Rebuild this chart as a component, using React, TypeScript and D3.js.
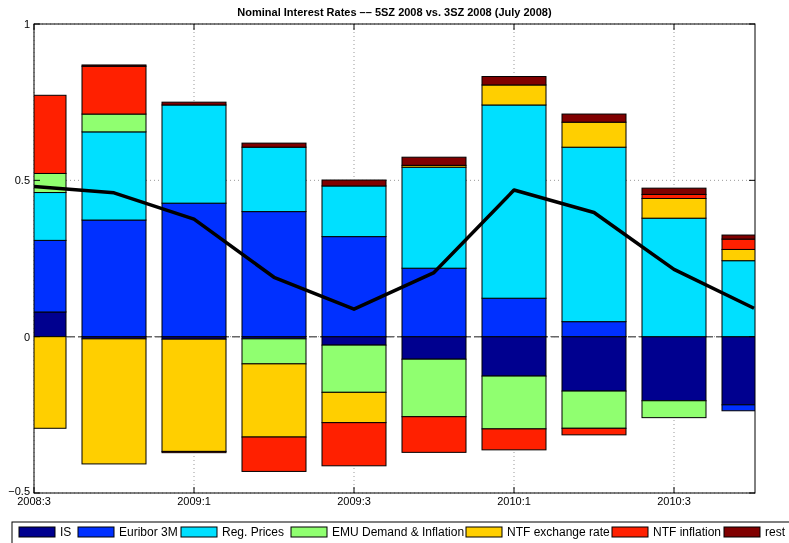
import { useEffect, useRef } from "react"
import * as d3 from "d3"

const quarters = ["2008:3", "2008:4", "2009:1", "2009:2", "2009:3", "2009:4", "2010:1", "2010:2", "2010:3", "2010:4"]
const tickLabels = ["2008:3", "2009:1", "2009:3", "2010:1", "2010:3"]
const seriesNames = ["IS", "Euribor 3M", "Reg. Prices", "EMU Demand & Inflation", "NTF exchange rate", "NTF inflation", "rest"]
const seriesColors = ["#00008f", "#0030ff", "#00e0ff", "#90ff70", "#ffcf00", "#ff2000", "#800000"]

const isValues = [0.079, -0.007, -0.008, -0.007, -0.027, -0.072, -0.126, -0.174, -0.205, -0.218]
const euriborValues = [0.229, 0.373, 0.427, 0.4, 0.32, 0.219, 0.123, 0.048, 0.0, -0.019]
const regPricesValues = [0.153, 0.282, 0.314, 0.206, 0.162, 0.323, 0.618, 0.558, 0.379, 0.243]
const emuValues = [0.061, 0.057, 0.0, -0.08, -0.151, -0.184, -0.169, -0.119, -0.054, 0.0]
const ntfExchangeValues = [-0.293, -0.4, -0.359, -0.234, -0.097, 0.006, 0.064, 0.08, 0.063, 0.036]
const ntfInflationValues = [0.25, 0.153, -0.004, -0.11, -0.138, -0.114, -0.067, -0.021, 0.013, 0.033]
const restValues = [0.0, 0.004, 0.009, 0.013, 0.019, 0.026, 0.027, 0.026, 0.02, 0.013]
const totalLine = [0.48, 0.46, 0.376, 0.19, 0.088, 0.205, 0.469, 0.397, 0.215, 0.091]

const yTicks = [-0.5, 0, 0.5, 1]

export default function App() {
  const svgRef = useRef<SVGSVGElement>(null)

  useEffect(() => {
    if (!svgRef.current) return
    const root = d3.select(svgRef.current)
    root.selectAll("*").remove()

    const width = 789
    const height = 543
    const left = 34
    const right = 755
    const top = 24
    const bottom = 493
    const font = "'Liberation Sans', Arial, Helvetica, sans-serif"

    root.attr("width", width).attr("height", height)

    const series = [isValues, euriborValues, regPricesValues, emuValues, ntfExchangeValues, ntfInflationValues, restValues]

    const x = d3.scaleLinear().domain([0, quarters.length - 1]).range([left, right - 1])
    const y = d3.scaleLinear().domain([-0.5, 1]).range([bottom, top])
    const barW = (x(1) - x(0)) * 0.8

    root
      .append("defs")
      .append("clipPath")
      .attr("id", "plot-clip")
      .append("rect")
      .attr("x", left)
      .attr("y", top)
      .attr("width", right - left)
      .attr("height", bottom - top)

    // grid
    const grid = root.append("g")
    tickLabels.forEach((t) => {
      const xi = x(quarters.indexOf(t))
      grid
        .append("line")
        .attr("x1", xi)
        .attr("x2", xi)
        .attr("y1", top)
        .attr("y2", bottom)
        .attr("stroke", "#999")
        .attr("stroke-dasharray", "1,3")
    })
    yTicks.forEach((v) => {
      grid
        .append("line")
        .attr("x1", left)
        .attr("x2", right)
        .attr("y1", y(v))
        .attr("y2", y(v))
        .attr("stroke", "#999")
        .attr("stroke-dasharray", "1,3")
    })

    // baseline
    root
      .append("line")
      .attr("x1", left)
      .attr("x2", right)
      .attr("y1", y(0))
      .attr("y2", y(0))
      .attr("stroke", "#666")
      .attr("stroke-width", 1.5)
      .attr("stroke-dasharray", "8,3")

    // stacked bars, positives up and negatives down
    const bars = root.append("g").attr("clip-path", "url(#plot-clip)")
    quarters.forEach((_, i) => {
      let pos = 0
      let neg = 0
      series.forEach((vals, s) => {
        const v = vals[i]
        if (v === 0) return
        let y0: number
        let y1: number
        if (v > 0) {
          y0 = pos
          y1 = pos + v
          pos = y1
        } else {
          y0 = neg
          y1 = neg + v
          neg = y1
        }
        bars
          .append("rect")
          .attr("x", x(i) - barW / 2)
          .attr("width", barW)
          .attr("y", y(Math.max(y0, y1)))
          .attr("height", Math.abs(y(y0) - y(y1)))
          .attr("fill", seriesColors[s])
          .attr("stroke", "#000")
          .attr("stroke-width", 1)
      })
    })

    // total line
    const line = d3
      .line<number>()
      .x((_, i) => x(i))
      .y((d) => y(d))
    root
      .append("path")
      .datum(totalLine)
      .attr("clip-path", "url(#plot-clip)")
      .attr("fill", "none")
      .attr("stroke", "#000")
      .attr("stroke-width", 3.5)
      .attr("stroke-linejoin", "round")
      .attr("d", line)

    // axes box
    root
      .append("rect")
      .attr("x", left)
      .attr("y", top)
      .attr("width", right - left)
      .attr("height", bottom - top)
      .attr("fill", "none")
      .attr("stroke", "#000")
      .attr("stroke-width", 1)

    const ticks = root.append("g").attr("stroke", "#000")
    tickLabels.forEach((t) => {
      const xi = x(quarters.indexOf(t))
      ticks.append("line").attr("x1", xi).attr("x2", xi).attr("y1", bottom).attr("y2", bottom - 6)
      ticks.append("line").attr("x1", xi).attr("x2", xi).attr("y1", top).attr("y2", top + 6)
    })
    yTicks.forEach((v) => {
      ticks.append("line").attr("x1", left).attr("x2", left + 6).attr("y1", y(v)).attr("y2", y(v))
      ticks.append("line").attr("x1", right).attr("x2", right - 6).attr("y1", y(v)).attr("y2", y(v))
    })

    // tick labels
    const fmt = (v: number) => (v < 0 ? "\u2212" + Math.abs(v) : String(v))
    yTicks.forEach((v) => {
      root
        .append("text")
        .attr("x", left - 4)
        .attr("y", y(v) + (v === -0.5 ? 2 : 4))
        .attr("text-anchor", "end")
        .style("font-family", font)
        .style("font-size", "11px")
        .text(fmt(v))
    })
    tickLabels.forEach((t) => {
      root
        .append("text")
        .attr("x", x(quarters.indexOf(t)))
        .attr("y", bottom + 12)
        .attr("text-anchor", "middle")
        .style("font-family", font)
        .style("font-size", "11px")
        .text(t)
    })

    // title
    root
      .append("text")
      .attr("x", (left + right) / 2)
      .attr("y", 16)
      .attr("text-anchor", "middle")
      .style("font-family", font)
      .style("font-size", "11px")
      .style("font-weight", "bold")
      .text("Nominal Interest Rates \u2013\u2013 5SZ 2008 vs. 3SZ 2008 (July 2008)")

    // legend
    const legend = root.append("g")
    legend
      .append("rect")
      .attr("x", 12)
      .attr("y", 522)
      .attr("width", 790)
      .attr("height", 30)
      .attr("fill", "#fff")
      .attr("stroke", "#000")
    const swatchX = [19, 78, 181, 291, 466, 612, 724]
    seriesNames.forEach((name, s) => {
      legend
        .append("rect")
        .attr("x", swatchX[s])
        .attr("y", 527)
        .attr("width", 36)
        .attr("height", 10)
        .attr("fill", seriesColors[s])
        .attr("stroke", "#000")
      legend
        .append("text")
        .attr("x", swatchX[s] + 41)
        .attr("y", 536)
        .style("font-family", font)
        .style("font-size", "12px")
        .text(name)
    })
  }, [])

  return (
    <div style={{ position: "fixed", left: 0, top: 0 }}>
      <svg ref={svgRef} style={{ display: "block" }}></svg>
    </div>
  )
}
